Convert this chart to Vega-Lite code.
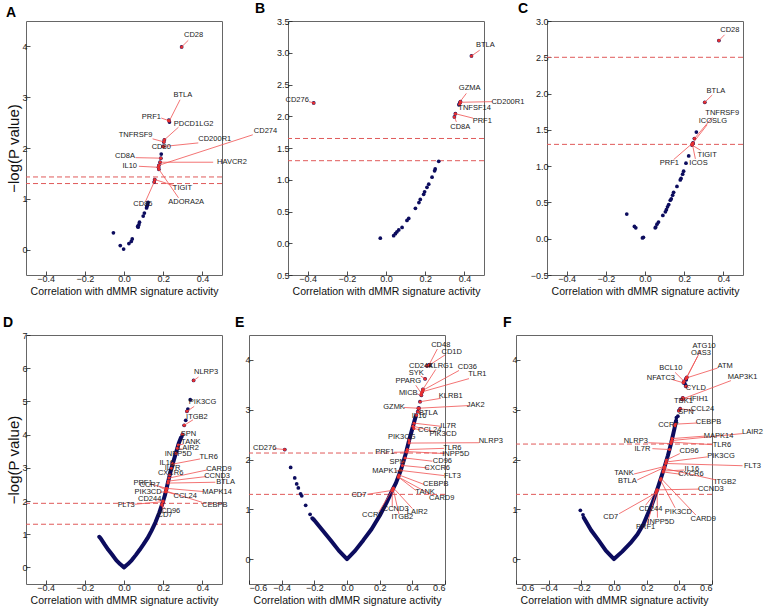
{
"$schema":"https://vega.github.io/schema/vega-lite/v6.json",
"autosize":{"type":"none"},
"padding":{"left":26,"top":21,"right":738,"bottom":588},
"background":"white",
"config":{
 "font":"Liberation Sans",
 "view":{"stroke":"#666","strokeWidth":1},
 "axis":{"domain":false,"grid":false,"tickSize":-4,"tickColor":"#222","tickWidth":0.8,"labelFontSize":9,"labelColor":"#222","labelPadding":3,"titleFontWeight":"normal","titleColor":"#111"},
 "axisX":{"titleFontSize":10.5,"titlePadding":3},
 "axisY":{"titleFontSize":15,"titlePadding":0},
 "title":{"fontSize":14,"fontWeight":"bold","anchor":"start","frame":"group","offset":1,"baseline":"alphabetic","color":"#000"}
},
"datasets":{
 "A_thr":[{"y":1.43},{"y":1.3}],
 "B_thr":[{"y":1.65},{"y":1.3}],
 "C_thr":[{"y":2.5},{"y":1.3}],
 "D_thr":[{"y":1.93},{"y":1.3}],
 "E_thr":[{"y":2.13},{"y":1.3}],
 "F_thr":[{"y":2.31},{"y":1.3}],
 "A_pts":[{"x":0.294,"y":3.99},{"x":0.229,"y":2.55},{"x":0.232,"y":2.51},{"x":0.206,"y":2.16},{"x":0.203,"y":2.12},{"x":0.199,"y":2.03},{"x":0.19,"y":1.88},{"x":0.188,"y":1.8},{"x":0.184,"y":1.72},{"x":0.178,"y":1.66},{"x":0.176,"y":1.62},{"x":0.178,"y":1.58},{"x":0.157,"y":1.38},{"x":0.154,"y":1.33},{"x":0.123,"y":0.93},{"x":0.12,"y":0.88},{"x":0.117,"y":0.85},{"x":0.115,"y":0.82},{"x":0.104,"y":0.72},{"x":0.098,"y":0.66},{"x":0.079,"y":0.54},{"x":0.076,"y":0.49},{"x":0.072,"y":0.44},{"x":0.07,"y":0.46},{"x":0.042,"y":0.21},{"x":0.037,"y":0.16},{"x":0.025,"y":0.12},{"x":-0.002,"y":0.01},{"x":-0.019,"y":0.08},{"x":-0.054,"y":0.33}],
 "A_lab":[
  {"g":"CD28","tx":0.355,"ty":4.23,"sx":0.328,"sy":4.12,"x":0.294,"y":3.99},
  {"g":"BTLA","tx":0.3,"ty":3.05,"sx":0.286,"sy":2.95,"x":0.231,"y":2.53},
  {"g":"PRF1","tx":0.14,"ty":2.62,"sx":0.19,"sy":2.59,"x":0.227,"y":2.54},
  {"g":"PDCD1LG2","tx":0.355,"ty":2.48,"sx":0.278,"sy":2.41,"x":0.206,"y":2.16},
  {"g":"TNFRSF9","tx":0.059,"ty":2.26,"sx":0.146,"sy":2.18,"x":0.204,"y":2.12},
  {"g":"CD200R1","tx":0.463,"ty":2.17,"sx":0.379,"sy":2.1,"x":0.202,"y":2.03},
  {"g":"CD80","tx":0.19,"ty":2.01,"sx":0.199,"sy":2.03,"x":0.199,"y":2.03},
  {"g":"CD8A","tx":0.005,"ty":1.84,"sx":0.059,"sy":1.81,"x":0.188,"y":1.8},
  {"g":"HAVCR2","tx":0.551,"ty":1.72,"sx":0.455,"sy":1.72,"x":0.184,"y":1.72},
  {"g":"IL10","tx":0.029,"ty":1.64,"sx":0.076,"sy":1.64,"x":0.176,"y":1.62},
  {"g":"CD274","tx":0.722,"ty":2.34,"sx":0.657,"sy":2.26,"x":0.178,"y":1.66},
  {"g":"TIGIT","tx":0.298,"ty":1.21,"sx":0.261,"sy":1.25,"x":0.157,"y":1.38},
  {"g":"ADORA2A","tx":0.317,"ty":0.93,"sx":0.278,"sy":1.02,"x":0.178,"y":1.58},
  {"g":"CD86","tx":0.096,"ty":0.89,"sx":0.11,"sy":0.95,"x":0.154,"y":1.33}],
 "B_pts":[{"x":0.436,"y":2.95},{"x":0.38,"y":2.23},{"x":0.378,"y":2.22},{"x":0.375,"y":2.2},{"x":0.372,"y":2.18},{"x":0.354,"y":2.04},{"x":0.349,"y":1.99},{"x":-0.369,"y":2.21},{"x":0.269,"y":1.29},{"x":0.251,"y":1.17},{"x":0.248,"y":1.14},{"x":0.235,"y":1.04},{"x":0.218,"y":0.93},{"x":0.209,"y":0.88},{"x":0.197,"y":0.81},{"x":0.192,"y":0.77},{"x":0.175,"y":0.69},{"x":0.168,"y":0.64},{"x":0.15,"y":0.55},{"x":0.116,"y":0.39},{"x":0.107,"y":0.36},{"x":0.082,"y":0.25},{"x":0.065,"y":0.21},{"x":0.056,"y":0.18},{"x":0.048,"y":0.15},{"x":0.039,"y":0.12},{"x":-0.029,"y":0.08}],
 "B_lab":[
  {"g":"BTLA","tx":0.507,"ty":3.12,"sx":0.478,"sy":3.04,"x":0.436,"y":2.95},
  {"g":"GZMA","tx":0.427,"ty":2.44,"sx":0.41,"sy":2.36,"x":0.378,"y":2.23},
  {"g":"CD200R1","tx":0.622,"ty":2.23,"sx":0.542,"sy":2.23,"x":0.38,"y":2.22},
  {"g":"TNFSF14","tx":0.452,"ty":2.13,"sx":0.384,"sy":2.18,"x":0.375,"y":2.19},
  {"g":"PRF1","tx":0.491,"ty":1.92,"sx":0.444,"sy":1.97,"x":0.354,"y":2.04},
  {"g":"CD8A","tx":0.379,"ty":1.83,"sx":0.359,"sy":1.91,"x":0.349,"y":1.99},
  {"g":"CD276","tx":-0.453,"ty":2.25,"sx":-0.393,"sy":2.23,"x":-0.369,"y":2.21}],
 "C_pts":[{"x":0.377,"y":2.73},{"x":0.305,"y":1.88},{"x":0.262,"y":1.47},{"x":0.252,"y":1.38},{"x":0.245,"y":1.32},{"x":0.24,"y":1.29},{"x":0.243,"y":1.31},{"x":0.223,"y":1.14},{"x":0.209,"y":1.04},{"x":0.197,"y":0.93},{"x":0.192,"y":0.89},{"x":0.184,"y":0.83},{"x":0.18,"y":0.81},{"x":0.163,"y":0.72},{"x":0.146,"y":0.64},{"x":0.141,"y":0.6},{"x":0.134,"y":0.55},{"x":0.129,"y":0.53},{"x":0.121,"y":0.47},{"x":0.115,"y":0.44},{"x":0.109,"y":0.4},{"x":0.104,"y":0.37},{"x":0.091,"y":0.32},{"x":0.069,"y":0.23},{"x":0.061,"y":0.2},{"x":0.055,"y":0.16},{"x":0.052,"y":0.15},{"x":-0.008,"y":0.02},{"x":-0.013,"y":0.01},{"x":-0.047,"y":0.15},{"x":-0.054,"y":0.17},{"x":-0.093,"y":0.34}],
 "C_lab":[
  {"g":"CD28","tx":0.433,"ty":2.87,"sx":0.406,"sy":2.81,"x":0.377,"y":2.73},
  {"g":"BTLA","tx":0.362,"ty":2.04,"sx":0.343,"sy":1.98,"x":0.305,"y":1.88},
  {"g":"TNFRSF9","tx":0.394,"ty":1.73,"sx":0.343,"sy":1.67,"x":0.252,"y":1.38},
  {"g":"ICOSLG","tx":0.346,"ty":1.62,"sx":0.317,"sy":1.57,"x":0.245,"y":1.32},
  {"g":"TIGIT","tx":0.317,"ty":1.16,"sx":0.283,"sy":1.22,"x":0.24,"y":1.29},
  {"g":"ICOS","tx":0.273,"ty":1.04,"sx":0.257,"sy":1.1,"x":0.242,"y":1.3},
  {"g":"PRF1","tx":0.124,"ty":1.04,"sx":0.146,"sy":1.09,"x":0.24,"y":1.31}],
 "D_pts":[{"x":0.355,"y":5.63},{"x":0.338,"y":5.05},{"x":0.326,"y":4.77},{"x":0.321,"y":4.7},{"x":0.315,"y":4.43},{"x":0.307,"y":4.28},{"x":0.298,"y":4.01},{"x":0.295,"y":3.94}],
 "D_curve":[{"x":-0.126,"y":0.92},{"x":-0.12,"y":0.88},{"x":-0.1,"y":0.7},{"x":-0.08,"y":0.53},{"x":-0.06,"y":0.38},{"x":-0.04,"y":0.22},{"x":-0.02,"y":0.1},{"x":0,"y":0},{"x":0.02,"y":0.1},{"x":0.04,"y":0.22},{"x":0.06,"y":0.37},{"x":0.08,"y":0.53},{"x":0.1,"y":0.7},{"x":0.12,"y":0.88},{"x":0.14,"y":1.1},{"x":0.16,"y":1.35},{"x":0.18,"y":1.65},{"x":0.2,"y":2.0},{"x":0.21,"y":2.2},{"x":0.22,"y":2.45},{"x":0.23,"y":2.7},{"x":0.24,"y":2.95},{"x":0.25,"y":3.15},{"x":0.26,"y":3.35},{"x":0.27,"y":3.55},{"x":0.28,"y":3.75},{"x":0.29,"y":3.9}],
 "D_lab":[
  {"g":"NLRP3","tx":0.419,"ty":5.875,"sx":0.38,"sy":5.733,"x":0.355,"y":5.63},
  {"g":"PIK3CG","tx":0.401,"ty":4.979,"sx":0.358,"sy":4.849,"x":0.321,"y":4.7},
  {"g":"ITGB2","tx":0.372,"ty":4.517,"sx":0.352,"sy":4.445,"x":0.307,"y":4.28},
  {"g":"SPN","tx":0.329,"ty":4.013,"sx":0.305,"sy":4.02,"x":0.298,"y":4.01},
  {"g":"TANK","tx":0.341,"ty":3.772,"sx":0.303,"sy":3.711,"x":0.277,"y":3.69},
  {"g":"LAIR2","tx":0.329,"ty":3.591,"sx":0.296,"sy":3.561,"x":0.272,"y":3.59},
  {"g":"INPP5D","tx":0.277,"ty":3.41,"sx":0.27,"sy":3.43,"x":0.265,"y":3.44},
  {"g":"TLR6","tx":0.432,"ty":3.319,"sx":0.389,"sy":3.268,"x":0.248,"y":3.11},
  {"g":"IL16","tx":0.218,"ty":3.138,"sx":0.24,"sy":3.13,"x":0.249,"y":3.13},
  {"g":"IL7R","tx":0.248,"ty":3.008,"sx":0.245,"sy":3.0,"x":0.242,"y":2.99},
  {"g":"CXCR6","tx":0.238,"ty":2.836,"sx":0.236,"sy":2.8,"x":0.233,"y":2.79},
  {"g":"CARD9","tx":0.484,"ty":2.957,"sx":0.424,"sy":2.936,"x":0.229,"y":2.69},
  {"g":"CCND3","tx":0.475,"ty":2.767,"sx":0.42,"sy":2.737,"x":0.226,"y":2.6},
  {"g":"BTLA","tx":0.518,"ty":2.586,"sx":0.466,"sy":2.565,"x":0.224,"y":2.54},
  {"g":"PRF1","tx":0.097,"ty":2.556,"sx":0.14,"sy":2.505,"x":0.2175,"y":2.38},
  {"g":"CCR7","tx":0.131,"ty":2.483,"sx":0.179,"sy":2.435,"x":0.215,"y":2.33},
  {"g":"PIK3CD","tx":0.123,"ty":2.272,"sx":0.183,"sy":2.263,"x":0.213,"y":2.28},
  {"g":"MAPK14","tx":0.475,"ty":2.284,"sx":0.406,"sy":2.284,"x":0.2175,"y":2.38},
  {"g":"CCL24","tx":0.312,"ty":2.164,"sx":0.26,"sy":2.203,"x":0.213,"y":2.28},
  {"g":"CD244","tx":0.131,"ty":2.052,"sx":0.17,"sy":2.04,"x":0.2,"y":2.0},
  {"g":"CEBPB","tx":0.463,"ty":1.88,"sx":0.398,"sy":1.961,"x":0.214,"y":2.3},
  {"g":"FLT3","tx":0.011,"ty":1.88,"sx":0.054,"sy":1.901,"x":0.199,"y":1.98},
  {"g":"CD96","tx":0.238,"ty":1.711,"sx":0.21,"sy":1.78,"x":0.193,"y":1.88},
  {"g":"CD7","tx":0.209,"ty":1.578,"sx":0.2,"sy":1.66,"x":0.194,"y":1.9}],
 "E_pts":[{"x":0.502,"y":3.9},{"x":0.506,"y":3.9},{"x":0.49,"y":3.88},{"x":0.478,"y":3.62},{"x":0.465,"y":3.41},{"x":0.461,"y":3.36},{"x":0.455,"y":3.29},{"x":0.447,"y":3.16},{"x":0.441,"y":3.03},{"x":0.437,"y":3.03},{"x":0.433,"y":2.96},{"x":0.424,"y":2.89},{"x":-0.381,"y":2.2},{"x":-0.226,"y":0.9},{"x":-0.253,"y":1.08},{"x":-0.277,"y":1.27},{"x":-0.284,"y":1.31},{"x":-0.298,"y":1.43},{"x":-0.308,"y":1.51},{"x":-0.32,"y":1.63},{"x":-0.345,"y":1.84}],
 "E_curve":[{"x":-0.212,"y":0.82},{"x":-0.2,"y":0.78},{"x":-0.15,"y":0.58},{"x":-0.1,"y":0.38},{"x":-0.05,"y":0.17},{"x":0,"y":0},{"x":0.05,"y":0.17},{"x":0.1,"y":0.38},{"x":0.15,"y":0.6},{"x":0.2,"y":0.87},{"x":0.24,"y":1.12},{"x":0.28,"y":1.4},{"x":0.3,"y":1.53},{"x":0.33,"y":1.79},{"x":0.36,"y":2.12},{"x":0.38,"y":2.38},{"x":0.4,"y":2.62},{"x":0.42,"y":2.86}],
 "E_lab":[
  {"g":"CD48","tx":0.574,"ty":4.303,"sx":0.553,"sy":4.218,"x":0.502,"y":3.9},
  {"g":"CD1D","tx":0.641,"ty":4.152,"sx":0.6,"sy":4.099,"x":0.506,"y":3.9},
  {"g":"CD244","tx":0.451,"ty":3.875,"sx":0.475,"sy":3.88,"x":0.49,"y":3.88},
  {"g":"KLRG1","tx":0.574,"ty":3.887,"sx":0.543,"sy":3.808,"x":0.465,"y":3.41},
  {"g":"CD36","tx":0.737,"ty":3.855,"sx":0.686,"sy":3.788,"x":0.465,"y":3.39},
  {"g":"TLR1","tx":0.798,"ty":3.709,"sx":0.747,"sy":3.624,"x":0.461,"y":3.36},
  {"g":"SYK","tx":0.424,"ty":3.743,"sx":0.451,"sy":3.677,"x":0.478,"y":3.62},
  {"g":"PPARG","tx":0.375,"ty":3.57,"sx":0.421,"sy":3.491,"x":0.455,"y":3.33},
  {"g":"MICB","tx":0.375,"ty":3.327,"sx":0.43,"sy":3.313,"x":0.455,"y":3.29},
  {"g":"KLRB1","tx":0.635,"ty":3.267,"sx":0.574,"sy":3.228,"x":0.447,"y":3.16},
  {"g":"JAK2","tx":0.788,"ty":3.103,"sx":0.747,"sy":3.083,"x":0.441,"y":3.03},
  {"g":"GZMK","tx":0.288,"ty":3.05,"sx":0.349,"sy":3.044,"x":0.437,"y":3.03},
  {"g":"BTLA","tx":0.498,"ty":2.931,"sx":0.46,"sy":2.94,"x":0.433,"y":2.96},
  {"g":"IL16","tx":0.441,"ty":2.871,"sx":0.43,"sy":2.88,"x":0.424,"y":2.89},
  {"g":"IL7R","tx":0.62,"ty":2.679,"sx":0.574,"sy":2.667,"x":0.41,"y":2.73},
  {"g":"CCL24","tx":0.506,"ty":2.594,"sx":0.451,"sy":2.594,"x":0.41,"y":2.62},
  {"g":"PIK3CD","tx":0.588,"ty":2.515,"sx":0.543,"sy":2.554,"x":0.404,"y":2.67},
  {"g":"PIK3CG","tx":0.335,"ty":2.461,"sx":0.37,"sy":2.44,"x":0.38,"y":2.38},
  {"g":"NLRP3","tx":0.88,"ty":2.362,"sx":0.808,"sy":2.337,"x":0.38,"y":2.33},
  {"g":"TLR6","tx":0.645,"ty":2.238,"sx":0.594,"sy":2.224,"x":0.369,"y":2.2},
  {"g":"INPP5D","tx":0.666,"ty":2.105,"sx":0.594,"sy":2.119,"x":0.366,"y":2.16},
  {"g":"PRF1","tx":0.231,"ty":2.145,"sx":0.288,"sy":2.145,"x":0.366,"y":2.15},
  {"g":"CD96","tx":0.584,"ty":1.966,"sx":0.522,"sy":1.966,"x":0.355,"y":2.03},
  {"g":"SPN","tx":0.308,"ty":1.947,"sx":0.33,"sy":1.93,"x":0.345,"y":1.95},
  {"g":"CXCR6","tx":0.553,"ty":1.828,"sx":0.502,"sy":1.828,"x":0.339,"y":1.88},
  {"g":"MAPK14","tx":0.245,"ty":1.768,"sx":0.3,"sy":1.768,"x":0.329,"y":1.78},
  {"g":"FLT3","tx":0.645,"ty":1.669,"sx":0.594,"sy":1.677,"x":0.329,"y":1.78},
  {"g":"CEBPB","tx":0.543,"ty":1.499,"sx":0.472,"sy":1.499,"x":0.318,"y":1.69},
  {"g":"TANK","tx":0.478,"ty":1.341,"sx":0.421,"sy":1.38,"x":0.314,"y":1.65},
  {"g":"CARD9","tx":0.58,"ty":1.234,"sx":0.522,"sy":1.281,"x":0.314,"y":1.65},
  {"g":"CD7","tx":0.073,"ty":1.293,"sx":0.124,"sy":1.301,"x":0.277,"y":1.38},
  {"g":"CCR7","tx":0.155,"ty":0.885,"sx":0.196,"sy":0.95,"x":0.282,"y":1.42},
  {"g":"CCND3","tx":0.298,"ty":0.996,"sx":0.277,"sy":1.05,"x":0.277,"y":1.38},
  {"g":"ITGB2","tx":0.339,"ty":0.838,"sx":0.318,"sy":0.905,"x":0.282,"y":1.42},
  {"g":"LAIR2","tx":0.43,"ty":0.95,"sx":0.4,"sy":1.016,"x":0.284,"y":1.43},
  {"g":"CD276","tx":-0.504,"ty":2.238,"sx":-0.443,"sy":2.218,"x":-0.381,"y":2.2}],
 "F_pts":[{"x":0.446,"y":3.65},{"x":0.442,"y":3.6},{"x":0.44,"y":3.62},{"x":0.438,"y":3.5},{"x":0.432,"y":3.54},{"x":0.429,"y":3.57},{"x":0.425,"y":3.54},{"x":0.44,"y":3.47},{"x":0.421,"y":3.24},{"x":0.417,"y":3.21},{"x":0.423,"y":3.22},{"x":0.405,"y":3.02},{"x":0.397,"y":2.98},{"x":0.391,"y":2.87},{"x":0.382,"y":2.84},{"x":-0.19,"y":0.89},{"x":-0.206,"y":0.98}],
 "F_curve":[{"x":-0.185,"y":0.83},{"x":-0.14,"y":0.58},{"x":-0.093,"y":0.37},{"x":-0.05,"y":0.17},{"x":0,"y":0},{"x":0.05,"y":0.15},{"x":0.1,"y":0.32},{"x":0.144,"y":0.5},{"x":0.18,"y":0.7},{"x":0.206,"y":0.9},{"x":0.23,"y":1.08},{"x":0.25,"y":1.26},{"x":0.27,"y":1.45},{"x":0.29,"y":1.65},{"x":0.31,"y":1.86},{"x":0.33,"y":2.08},{"x":0.35,"y":2.33},{"x":0.37,"y":2.62},{"x":0.38,"y":2.78}],
 "F_lab":[
  {"g":"ATG10","tx":0.552,"ty":4.277,"sx":0.532,"sy":4.198,"x":0.446,"y":3.65},
  {"g":"OAS3","tx":0.532,"ty":4.133,"sx":0.511,"sy":4.065,"x":0.44,"y":3.62},
  {"g":"ATM","tx":0.681,"ty":3.881,"sx":0.634,"sy":3.836,"x":0.446,"y":3.64},
  {"g":"BCL10","tx":0.348,"ty":3.836,"sx":0.374,"sy":3.749,"x":0.429,"y":3.57},
  {"g":"NFATC3","tx":0.287,"ty":3.638,"sx":0.358,"sy":3.604,"x":0.425,"y":3.54},
  {"g":"CYLD","tx":0.501,"ty":3.44,"sx":0.46,"sy":3.445,"x":0.44,"y":3.47},
  {"g":"MAP3K1","tx":0.787,"ty":3.65,"sx":0.716,"sy":3.584,"x":0.423,"y":3.22},
  {"g":"IFIH1","tx":0.521,"ty":3.222,"sx":0.472,"sy":3.218,"x":0.421,"y":3.24},
  {"g":"TBK1","tx":0.425,"ty":3.174,"sx":0.42,"sy":3.19,"x":0.417,"y":3.21},
  {"g":"CCL24","tx":0.542,"ty":3.024,"sx":0.491,"sy":2.976,"x":0.405,"y":3.02},
  {"g":"SPN","tx":0.44,"ty":2.945,"sx":0.41,"sy":2.96,"x":0.397,"y":2.98},
  {"g":"CEBPB","tx":0.579,"ty":2.758,"sx":0.511,"sy":2.733,"x":0.376,"y":2.71},
  {"g":"CCR7","tx":0.333,"ty":2.699,"sx":0.36,"sy":2.69,"x":0.374,"y":2.68},
  {"g":"MAPK14","tx":0.64,"ty":2.481,"sx":0.552,"sy":2.469,"x":0.356,"y":2.42},
  {"g":"LAIR2","tx":0.848,"ty":2.549,"sx":0.787,"sy":2.521,"x":0.354,"y":2.38},
  {"g":"NLRP3","tx":0.133,"ty":2.37,"sx":0.21,"sy":2.337,"x":0.349,"y":2.32},
  {"g":"IL7R","tx":0.174,"ty":2.218,"sx":0.235,"sy":2.218,"x":0.34,"y":2.2},
  {"g":"TLR6","tx":0.661,"ty":2.297,"sx":0.603,"sy":2.297,"x":0.351,"y":2.35},
  {"g":"CD96","tx":0.46,"ty":2.172,"sx":0.403,"sy":2.119,"x":0.321,"y":1.99},
  {"g":"PIK3CG","tx":0.655,"ty":2.073,"sx":0.572,"sy":2.053,"x":0.319,"y":1.95},
  {"g":"FLT3","tx":0.848,"ty":1.867,"sx":0.787,"sy":1.875,"x":0.316,"y":1.92},
  {"g":"TANK","tx":0.061,"ty":1.723,"sx":0.123,"sy":1.709,"x":0.31,"y":1.86},
  {"g":"BTLA","tx":0.082,"ty":1.57,"sx":0.143,"sy":1.59,"x":0.308,"y":1.84},
  {"g":"IL16","tx":0.477,"ty":1.808,"sx":0.429,"sy":1.788,"x":0.302,"y":1.77},
  {"g":"CXCR6","tx":0.471,"ty":1.703,"sx":0.409,"sy":1.703,"x":0.3,"y":1.75},
  {"g":"ITGB2","tx":0.681,"ty":1.545,"sx":0.624,"sy":1.59,"x":0.307,"y":1.82},
  {"g":"CCND3","tx":0.593,"ty":1.406,"sx":0.521,"sy":1.406,"x":0.264,"y":1.39},
  {"g":"CD244","tx":0.225,"ty":1.01,"sx":0.194,"sy":1.083,"x":0.26,"y":1.36},
  {"g":"PIK3CD","tx":0.394,"ty":0.95,"sx":0.374,"sy":1.03,"x":0.284,"y":1.59},
  {"g":"CARD9","tx":0.546,"ty":0.798,"sx":0.501,"sy":0.885,"x":0.288,"y":1.62},
  {"g":"CD7","tx":-0.02,"ty":0.846,"sx":0.031,"sy":0.911,"x":0.257,"y":1.33},
  {"g":"INPP5D","tx":0.287,"ty":0.752,"sx":0.266,"sy":0.832,"x":0.264,"y":1.39},
  {"g":"PRF1","tx":0.194,"ty":0.648,"sx":0.204,"sy":0.713,"x":0.263,"y":1.39}]
},
"spacing":18,
"vconcat":[
{"hconcat":[
 {"width":196,"height":254,"title":{"text":"A","dx":-20},
  "layer":[
   {"data":{"name":"A_thr"},"mark":{"type":"rule","color":"#e05a5a","strokeDash":[5,3],"strokeWidth":1},"encoding":{"y":{"field":"y","type":"quantitative","scale":{"domain":[-0.5,4.5],"nice":false,"zero":false},"axis":{"values":[0,1,2,3,4],"format":"d","title":"−log(P value)"}}}},
   {"data":{"name":"A_pts"},"mark":{"type":"circle","size":14,"color":"#0c0c5e","opacity":1},"encoding":{"x":{"field":"x","type":"quantitative","scale":{"domain":[-0.5,0.5],"nice":false,"zero":false},"axis":{"values":[-0.4,-0.2,0,0.2,0.4],"format":".1f","title":"Correlation with dMMR signature activity"}},"y":{"field":"y","type":"quantitative","scale":{"domain":[-0.5,4.5],"nice":false,"zero":false},"axis":{"values":[0,1,2,3,4],"format":"d","title":"−log(P value)"}}}},
   {"data":{"name":"A_lab"},"mark":{"type":"rule","color":"#f05050","strokeWidth":0.8},"encoding":{"x":{"field":"sx","type":"quantitative","scale":{"domain":[-0.5,0.5],"nice":false,"zero":false},"axis":{"values":[-0.4,-0.2,0,0.2,0.4],"format":".1f","title":"Correlation with dMMR signature activity"}},"y":{"field":"sy","type":"quantitative","scale":{"domain":[-0.5,4.5],"nice":false,"zero":false},"axis":{"values":[0,1,2,3,4],"format":"d","title":"−log(P value)"}},"x2":{"field":"x"},"y2":{"field":"y"}}},
   {"data":{"name":"A_lab"},"mark":{"type":"circle","size":9,"color":"#e83030","opacity":1},"encoding":{"x":{"field":"x","type":"quantitative","scale":{"domain":[-0.5,0.5],"nice":false,"zero":false},"axis":{"values":[-0.4,-0.2,0,0.2,0.4],"format":".1f","title":"Correlation with dMMR signature activity"}},"y":{"field":"y","type":"quantitative","scale":{"domain":[-0.5,4.5],"nice":false,"zero":false},"axis":{"values":[0,1,2,3,4],"format":"d","title":"−log(P value)"}}}},
   {"data":{"name":"A_lab"},"mark":{"type":"text","fontSize":7.5,"color":"#1a1a1a"},"encoding":{"x":{"field":"tx","type":"quantitative","scale":{"domain":[-0.5,0.5],"nice":false,"zero":false},"axis":{"values":[-0.4,-0.2,0,0.2,0.4],"format":".1f","title":"Correlation with dMMR signature activity"}},"y":{"field":"ty","type":"quantitative","scale":{"domain":[-0.5,4.5],"nice":false,"zero":false},"axis":{"values":[0,1,2,3,4],"format":"d","title":"−log(P value)"}},"text":{"field":"g"}}}
  ]},
 {"hconcat":[
  {"width":196,"height":254,"title":{"text":"B","dx":-33},
   "layer":[
    {"data":{"name":"B_thr"},"mark":{"type":"rule","color":"#e05a5a","strokeDash":[5,3],"strokeWidth":1},"encoding":{"y":{"field":"y","type":"quantitative","scale":{"domain":[-0.5,3.5],"nice":false,"zero":false},"axis":{"values":[-0.5,0,0.5,1,1.5,2,2.5,3,3.5],"labelExpr":"format(abs(datum.value), '.1f')","title":null}}}},
    {"data":{"name":"B_pts"},"mark":{"type":"circle","size":14,"color":"#0c0c5e","opacity":1},"encoding":{"x":{"field":"x","type":"quantitative","scale":{"domain":[-0.5,0.5],"nice":false,"zero":false},"axis":{"values":[-0.4,-0.2,0,0.2,0.4],"format":".1f","title":"Correlation with dMMR signature activity"}},"y":{"field":"y","type":"quantitative","scale":{"domain":[-0.5,3.5],"nice":false,"zero":false},"axis":{"values":[-0.5,0,0.5,1,1.5,2,2.5,3,3.5],"labelExpr":"format(abs(datum.value), '.1f')","title":null}}}},
    {"data":{"name":"B_lab"},"mark":{"type":"rule","color":"#f05050","strokeWidth":0.8},"encoding":{"x":{"field":"sx","type":"quantitative","scale":{"domain":[-0.5,0.5],"nice":false,"zero":false},"axis":{"values":[-0.4,-0.2,0,0.2,0.4],"format":".1f","title":"Correlation with dMMR signature activity"}},"y":{"field":"sy","type":"quantitative","scale":{"domain":[-0.5,3.5],"nice":false,"zero":false},"axis":{"values":[-0.5,0,0.5,1,1.5,2,2.5,3,3.5],"labelExpr":"format(abs(datum.value), '.1f')","title":null}},"x2":{"field":"x"},"y2":{"field":"y"}}},
    {"data":{"name":"B_lab"},"mark":{"type":"circle","size":9,"color":"#e83030","opacity":1},"encoding":{"x":{"field":"x","type":"quantitative","scale":{"domain":[-0.5,0.5],"nice":false,"zero":false},"axis":{"values":[-0.4,-0.2,0,0.2,0.4],"format":".1f","title":"Correlation with dMMR signature activity"}},"y":{"field":"y","type":"quantitative","scale":{"domain":[-0.5,3.5],"nice":false,"zero":false},"axis":{"values":[-0.5,0,0.5,1,1.5,2,2.5,3,3.5],"labelExpr":"format(abs(datum.value), '.1f')","title":null}}}},
    {"data":{"name":"B_lab"},"mark":{"type":"text","fontSize":7.5,"color":"#1a1a1a"},"encoding":{"x":{"field":"tx","type":"quantitative","scale":{"domain":[-0.5,0.5],"nice":false,"zero":false},"axis":{"values":[-0.4,-0.2,0,0.2,0.4],"format":".1f","title":"Correlation with dMMR signature activity"}},"y":{"field":"ty","type":"quantitative","scale":{"domain":[-0.5,3.5],"nice":false,"zero":false},"axis":{"values":[-0.5,0,0.5,1,1.5,2,2.5,3,3.5],"labelExpr":"format(abs(datum.value), '.1f')","title":null}},"text":{"field":"g"}}}
   ]},
  {"width":196,"height":254,"title":{"text":"C","dx":-29},
   "layer":[
    {"data":{"name":"C_thr"},"mark":{"type":"rule","color":"#e05a5a","strokeDash":[5,3],"strokeWidth":1},"encoding":{"y":{"field":"y","type":"quantitative","scale":{"domain":[-0.5,3.0],"nice":false,"zero":false},"axis":{"values":[-0.5,0,0.5,1,1.5,2,2.5,3],"format":".1f","title":null}}}},
    {"data":{"name":"C_pts"},"mark":{"type":"circle","size":14,"color":"#0c0c5e","opacity":1},"encoding":{"x":{"field":"x","type":"quantitative","scale":{"domain":[-0.5,0.5],"nice":false,"zero":false},"axis":{"values":[-0.4,-0.2,0,0.2,0.4],"format":".1f","title":"Correlation with dMMR signature activity"}},"y":{"field":"y","type":"quantitative","scale":{"domain":[-0.5,3.0],"nice":false,"zero":false},"axis":{"values":[-0.5,0,0.5,1,1.5,2,2.5,3],"format":".1f","title":null}}}},
    {"data":{"name":"C_lab"},"mark":{"type":"rule","color":"#f05050","strokeWidth":0.8},"encoding":{"x":{"field":"sx","type":"quantitative","scale":{"domain":[-0.5,0.5],"nice":false,"zero":false},"axis":{"values":[-0.4,-0.2,0,0.2,0.4],"format":".1f","title":"Correlation with dMMR signature activity"}},"y":{"field":"sy","type":"quantitative","scale":{"domain":[-0.5,3.0],"nice":false,"zero":false},"axis":{"values":[-0.5,0,0.5,1,1.5,2,2.5,3],"format":".1f","title":null}},"x2":{"field":"x"},"y2":{"field":"y"}}},
    {"data":{"name":"C_lab"},"mark":{"type":"circle","size":9,"color":"#e83030","opacity":1},"encoding":{"x":{"field":"x","type":"quantitative","scale":{"domain":[-0.5,0.5],"nice":false,"zero":false},"axis":{"values":[-0.4,-0.2,0,0.2,0.4],"format":".1f","title":"Correlation with dMMR signature activity"}},"y":{"field":"y","type":"quantitative","scale":{"domain":[-0.5,3.0],"nice":false,"zero":false},"axis":{"values":[-0.5,0,0.5,1,1.5,2,2.5,3],"format":".1f","title":null}}}},
    {"data":{"name":"C_lab"},"mark":{"type":"text","fontSize":7.5,"color":"#1a1a1a"},"encoding":{"x":{"field":"tx","type":"quantitative","scale":{"domain":[-0.5,0.5],"nice":false,"zero":false},"axis":{"values":[-0.4,-0.2,0,0.2,0.4],"format":".1f","title":"Correlation with dMMR signature activity"}},"y":{"field":"ty","type":"quantitative","scale":{"domain":[-0.5,3.0],"nice":false,"zero":false},"axis":{"values":[-0.5,0,0.5,1,1.5,2,2.5,3],"format":".1f","title":null}},"text":{"field":"g"}}}
   ]}
 ],"spacing":63,"bounds":"flush"}
],"spacing":66,"bounds":"flush"},
{"hconcat":[
 {"width":196,"height":249,"title":{"text":"D","dx":-23},
  "layer":[
   {"data":{"name":"D_thr"},"mark":{"type":"rule","color":"#e05a5a","strokeDash":[5,3],"strokeWidth":1},"encoding":{"y":{"field":"y","type":"quantitative","scale":{"domain":[-0.5,7],"nice":false,"zero":false},"axis":{"values":[0,1,2,3,4,5,6,7],"format":"d","title":"−log(P value)"}}}},
   {"data":{"name":"D_curve"},"mark":{"type":"line","color":"#0c0c5e","strokeWidth":4,"strokeCap":"round","strokeJoin":"round"},"encoding":{"x":{"field":"x","type":"quantitative","scale":{"domain":[-0.5,0.5],"nice":false,"zero":false},"axis":{"values":[-0.4,-0.2,0,0.2,0.4],"format":".1f","title":"Correlation with dMMR signature activity"}},"y":{"field":"y","type":"quantitative","scale":{"domain":[-0.5,7],"nice":false,"zero":false},"axis":{"values":[0,1,2,3,4,5,6,7],"format":"d","title":"−log(P value)"}}}},
   {"data":{"name":"D_pts"},"mark":{"type":"circle","size":14,"color":"#0c0c5e","opacity":1},"encoding":{"x":{"field":"x","type":"quantitative","scale":{"domain":[-0.5,0.5],"nice":false,"zero":false},"axis":{"values":[-0.4,-0.2,0,0.2,0.4],"format":".1f","title":"Correlation with dMMR signature activity"}},"y":{"field":"y","type":"quantitative","scale":{"domain":[-0.5,7],"nice":false,"zero":false},"axis":{"values":[0,1,2,3,4,5,6,7],"format":"d","title":"−log(P value)"}}}},
   {"data":{"name":"D_lab"},"mark":{"type":"rule","color":"#f05050","strokeWidth":0.8},"encoding":{"x":{"field":"sx","type":"quantitative","scale":{"domain":[-0.5,0.5],"nice":false,"zero":false},"axis":{"values":[-0.4,-0.2,0,0.2,0.4],"format":".1f","title":"Correlation with dMMR signature activity"}},"y":{"field":"sy","type":"quantitative","scale":{"domain":[-0.5,7],"nice":false,"zero":false},"axis":{"values":[0,1,2,3,4,5,6,7],"format":"d","title":"−log(P value)"}},"x2":{"field":"x"},"y2":{"field":"y"}}},
   {"data":{"name":"D_lab"},"mark":{"type":"circle","size":9,"color":"#e83030","opacity":1},"encoding":{"x":{"field":"x","type":"quantitative","scale":{"domain":[-0.5,0.5],"nice":false,"zero":false},"axis":{"values":[-0.4,-0.2,0,0.2,0.4],"format":".1f","title":"Correlation with dMMR signature activity"}},"y":{"field":"y","type":"quantitative","scale":{"domain":[-0.5,7],"nice":false,"zero":false},"axis":{"values":[0,1,2,3,4,5,6,7],"format":"d","title":"−log(P value)"}}}},
   {"data":{"name":"D_lab"},"mark":{"type":"text","fontSize":7.5,"color":"#1a1a1a"},"encoding":{"x":{"field":"tx","type":"quantitative","scale":{"domain":[-0.5,0.5],"nice":false,"zero":false},"axis":{"values":[-0.4,-0.2,0,0.2,0.4],"format":".1f","title":"Correlation with dMMR signature activity"}},"y":{"field":"ty","type":"quantitative","scale":{"domain":[-0.5,7],"nice":false,"zero":false},"axis":{"values":[0,1,2,3,4,5,6,7],"format":"d","title":"−log(P value)"}},"text":{"field":"g"}}}
  ]},
 {"hconcat":[
  {"width":196,"height":249,"title":{"text":"E","dx":-14,"offset":5},
   "layer":[
    {"data":{"name":"E_thr"},"mark":{"type":"rule","color":"#e05a5a","strokeDash":[5,3],"strokeWidth":1},"encoding":{"y":{"field":"y","type":"quantitative","scale":{"domain":[-0.5,4.5],"nice":false,"zero":false},"axis":{"values":[0,1,2,3,4],"format":"d","title":null}}}},
    {"data":{"name":"E_curve"},"mark":{"type":"line","color":"#0c0c5e","strokeWidth":4,"strokeCap":"round","strokeJoin":"round"},"encoding":{"x":{"field":"x","type":"quantitative","scale":{"domain":[-0.6,0.6],"nice":false,"zero":false},"axis":{"values":[-0.6,-0.4,-0.2,0,0.2,0.4,0.6],"format":".1f","title":"Correlation with dMMR signature activity"}},"y":{"field":"y","type":"quantitative","scale":{"domain":[-0.5,4.5],"nice":false,"zero":false},"axis":{"values":[0,1,2,3,4],"format":"d","title":null}}}},
    {"data":{"name":"E_pts"},"mark":{"type":"circle","size":14,"color":"#0c0c5e","opacity":1},"encoding":{"x":{"field":"x","type":"quantitative","scale":{"domain":[-0.6,0.6],"nice":false,"zero":false},"axis":{"values":[-0.6,-0.4,-0.2,0,0.2,0.4,0.6],"format":".1f","title":"Correlation with dMMR signature activity"}},"y":{"field":"y","type":"quantitative","scale":{"domain":[-0.5,4.5],"nice":false,"zero":false},"axis":{"values":[0,1,2,3,4],"format":"d","title":null}}}},
    {"data":{"name":"E_lab"},"mark":{"type":"rule","color":"#f05050","strokeWidth":0.8},"encoding":{"x":{"field":"sx","type":"quantitative","scale":{"domain":[-0.6,0.6],"nice":false,"zero":false},"axis":{"values":[-0.6,-0.4,-0.2,0,0.2,0.4,0.6],"format":".1f","title":"Correlation with dMMR signature activity"}},"y":{"field":"sy","type":"quantitative","scale":{"domain":[-0.5,4.5],"nice":false,"zero":false},"axis":{"values":[0,1,2,3,4],"format":"d","title":null}},"x2":{"field":"x"},"y2":{"field":"y"}}},
    {"data":{"name":"E_lab"},"mark":{"type":"circle","size":9,"color":"#e83030","opacity":1},"encoding":{"x":{"field":"x","type":"quantitative","scale":{"domain":[-0.6,0.6],"nice":false,"zero":false},"axis":{"values":[-0.6,-0.4,-0.2,0,0.2,0.4,0.6],"format":".1f","title":"Correlation with dMMR signature activity"}},"y":{"field":"y","type":"quantitative","scale":{"domain":[-0.5,4.5],"nice":false,"zero":false},"axis":{"values":[0,1,2,3,4],"format":"d","title":null}}}},
    {"data":{"name":"E_lab"},"mark":{"type":"text","fontSize":7.5,"color":"#1a1a1a"},"encoding":{"x":{"field":"tx","type":"quantitative","scale":{"domain":[-0.6,0.6],"nice":false,"zero":false},"axis":{"values":[-0.6,-0.4,-0.2,0,0.2,0.4,0.6],"format":".1f","title":"Correlation with dMMR signature activity"}},"y":{"field":"ty","type":"quantitative","scale":{"domain":[-0.5,4.5],"nice":false,"zero":false},"axis":{"values":[0,1,2,3,4],"format":"d","title":null}},"text":{"field":"g"}}}
   ]},
  {"width":196,"height":249,"title":{"text":"F","dx":-13,"offset":5},
   "layer":[
    {"data":{"name":"F_thr"},"mark":{"type":"rule","color":"#e05a5a","strokeDash":[5,3],"strokeWidth":1},"encoding":{"y":{"field":"y","type":"quantitative","scale":{"domain":[-0.5,4.5],"nice":false,"zero":false},"axis":{"values":[0,1,2,3,4],"format":"d","title":null}}}},
    {"data":{"name":"F_curve"},"mark":{"type":"line","color":"#0c0c5e","strokeWidth":4,"strokeCap":"round","strokeJoin":"round"},"encoding":{"x":{"field":"x","type":"quantitative","scale":{"domain":[-0.6,0.6],"nice":false,"zero":false},"axis":{"values":[-0.6,-0.4,-0.2,0,0.2,0.4,0.6],"format":".1f","title":"Correlation with dMMR signature activity"}},"y":{"field":"y","type":"quantitative","scale":{"domain":[-0.5,4.5],"nice":false,"zero":false},"axis":{"values":[0,1,2,3,4],"format":"d","title":null}}}},
    {"data":{"name":"F_pts"},"mark":{"type":"circle","size":14,"color":"#0c0c5e","opacity":1},"encoding":{"x":{"field":"x","type":"quantitative","scale":{"domain":[-0.6,0.6],"nice":false,"zero":false},"axis":{"values":[-0.6,-0.4,-0.2,0,0.2,0.4,0.6],"format":".1f","title":"Correlation with dMMR signature activity"}},"y":{"field":"y","type":"quantitative","scale":{"domain":[-0.5,4.5],"nice":false,"zero":false},"axis":{"values":[0,1,2,3,4],"format":"d","title":null}}}},
    {"data":{"name":"F_lab"},"mark":{"type":"rule","color":"#f05050","strokeWidth":0.8},"encoding":{"x":{"field":"sx","type":"quantitative","scale":{"domain":[-0.6,0.6],"nice":false,"zero":false},"axis":{"values":[-0.6,-0.4,-0.2,0,0.2,0.4,0.6],"format":".1f","title":"Correlation with dMMR signature activity"}},"y":{"field":"sy","type":"quantitative","scale":{"domain":[-0.5,4.5],"nice":false,"zero":false},"axis":{"values":[0,1,2,3,4],"format":"d","title":null}},"x2":{"field":"x"},"y2":{"field":"y"}}},
    {"data":{"name":"F_lab"},"mark":{"type":"circle","size":9,"color":"#e83030","opacity":1},"encoding":{"x":{"field":"x","type":"quantitative","scale":{"domain":[-0.6,0.6],"nice":false,"zero":false},"axis":{"values":[-0.6,-0.4,-0.2,0,0.2,0.4,0.6],"format":".1f","title":"Correlation with dMMR signature activity"}},"y":{"field":"y","type":"quantitative","scale":{"domain":[-0.5,4.5],"nice":false,"zero":false},"axis":{"values":[0,1,2,3,4],"format":"d","title":null}}}},
    {"data":{"name":"F_lab"},"mark":{"type":"text","fontSize":7.5,"color":"#1a1a1a"},"encoding":{"x":{"field":"tx","type":"quantitative","scale":{"domain":[-0.6,0.6],"nice":false,"zero":false},"axis":{"values":[-0.6,-0.4,-0.2,0,0.2,0.4,0.6],"format":".1f","title":"Correlation with dMMR signature activity"}},"y":{"field":"ty","type":"quantitative","scale":{"domain":[-0.5,4.5],"nice":false,"zero":false},"axis":{"values":[0,1,2,3,4],"format":"d","title":null}},"text":{"field":"g"}}}
   ]}
 ],"spacing":71,"bounds":"flush"}
],"spacing":27,"bounds":"flush"}
]
}
